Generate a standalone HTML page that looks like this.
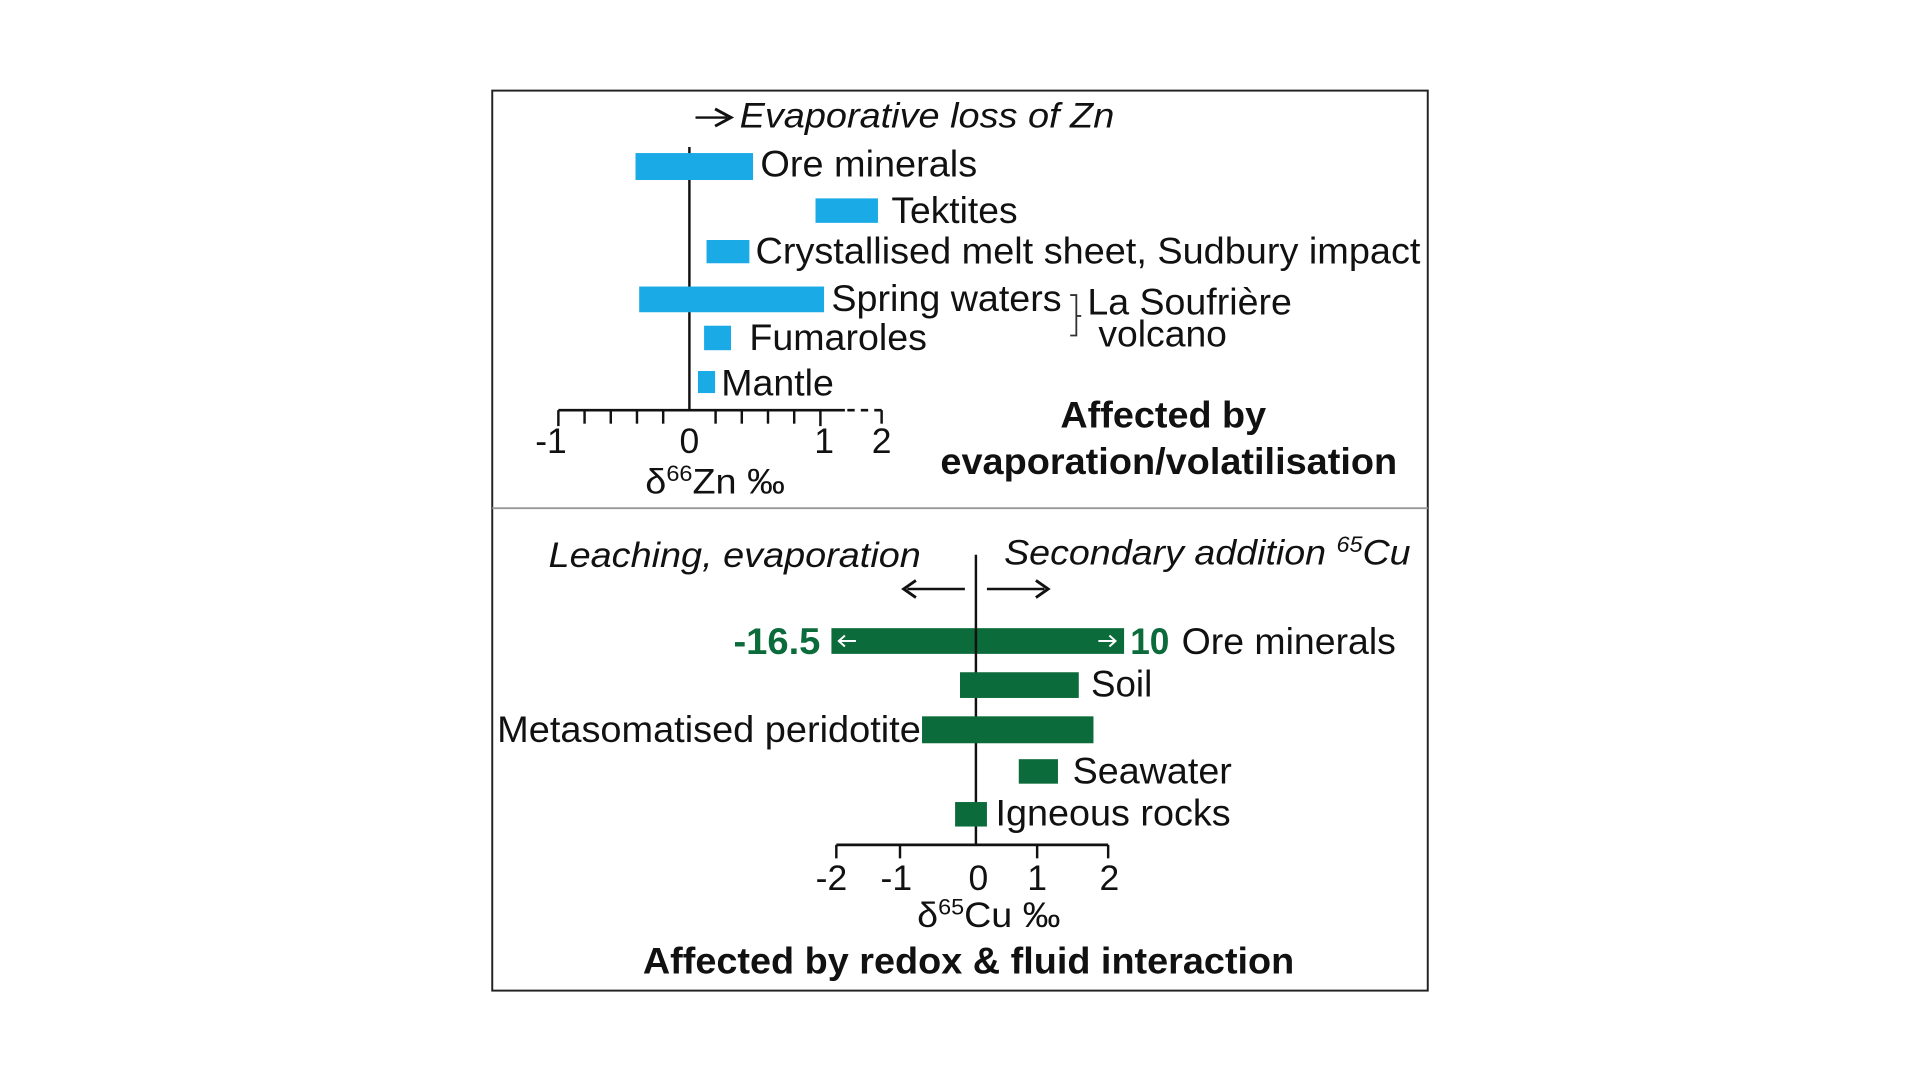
<!DOCTYPE html>
<html><head><meta charset="utf-8"><style>
html,body{margin:0;padding:0;background:#fff;}
svg{display:block;}
text{font-family:"Liberation Sans",Arial,sans-serif;fill:#111;}
</style></head><body>
<svg width="1920" height="1080" viewBox="0 0 1568 882" xmlns="http://www.w3.org/2000/svg">
<rect x="0" y="0" width="1568" height="882" fill="#fff"/>
<rect x="402" y="74" width="764" height="735" fill="none" stroke="#222" stroke-width="1.6"/>
<line x1="402" y1="415" x2="1166" y2="415" stroke="#999" stroke-width="1.5"/>

<!-- TOP PANEL -->
<line x1="568" y1="96" x2="594" y2="96" stroke="#111" stroke-width="2"/>
<path d="M584 89 L597 96 L584 103" fill="none" stroke="#111" stroke-width="2.4"/>
<text x="604" y="104" font-size="29" font-style="italic" textLength="306" lengthAdjust="spacingAndGlyphs">Evaporative loss of Zn</text>

<line x1="563" y1="120" x2="563" y2="336" stroke="#111" stroke-width="2"/>
<g fill="#1AABE6">
<rect x="519" y="125" width="96" height="22"/>
<rect x="666" y="162" width="51" height="20"/>
<rect x="577" y="196" width="35" height="19"/>
<rect x="522" y="234" width="151" height="21"/>
<rect x="575" y="266" width="22" height="20"/>
<rect x="570" y="303" width="14" height="18"/>
</g>
<g font-size="30" lengthAdjust="spacingAndGlyphs">
<text x="621" y="144" textLength="177" lengthAdjust="spacingAndGlyphs">Ore minerals</text>
<text x="728" y="182" textLength="103" lengthAdjust="spacingAndGlyphs">Tektites</text>
<text x="617" y="215" textLength="543" lengthAdjust="spacingAndGlyphs">Crystallised melt sheet, Sudbury impact</text>
<text x="679" y="254" textLength="188" lengthAdjust="spacingAndGlyphs">Spring waters</text>
<text x="612" y="286" textLength="145" lengthAdjust="spacingAndGlyphs">Fumaroles</text>
<text x="589" y="323" textLength="92" lengthAdjust="spacingAndGlyphs">Mantle</text>
<text x="888" y="257" textLength="167" lengthAdjust="spacingAndGlyphs">La Soufrière</text>
<text x="897" y="283" textLength="105" lengthAdjust="spacingAndGlyphs">volcano</text>
</g>
<path d="M874 241 L879 241 L879 274 L874 274 M879 258 L883 258" fill="none" stroke="#333" stroke-width="1.5"/>

<!-- top axis -->
<line x1="456" y1="335" x2="690" y2="335" stroke="#111" stroke-width="2.2"/>
<line x1="692" y1="335" x2="720" y2="335" stroke="#111" stroke-width="2.2" stroke-dasharray="6,5"/>
<g stroke="#111" stroke-width="2">
<line x1="456" y1="335" x2="456" y2="348"/>
<line x1="477.4" y1="335" x2="477.4" y2="346"/>
<line x1="498.8" y1="335" x2="498.8" y2="346"/>
<line x1="520.2" y1="335" x2="520.2" y2="346"/>
<line x1="541.6" y1="335" x2="541.6" y2="346"/>
<line x1="584.4" y1="335" x2="584.4" y2="346"/>
<line x1="605.8" y1="335" x2="605.8" y2="346"/>
<line x1="627.2" y1="335" x2="627.2" y2="346"/>
<line x1="648.6" y1="335" x2="648.6" y2="346"/>
<line x1="670" y1="335" x2="670" y2="348"/>
<line x1="720" y1="335" x2="720" y2="346"/>
</g>
<g font-size="29" text-anchor="middle">
<text x="450" y="370">-1</text>
<text x="563" y="370">0</text>
<text x="673" y="370">1</text>
<text x="720" y="370">2</text>
</g>
<text x="527" y="403" font-size="29" textLength="114" lengthAdjust="spacingAndGlyphs">δ<tspan font-size="18" dy="-10">66</tspan><tspan dy="10">Zn ‰</tspan></text>
<g font-size="30" font-weight="bold">
<text x="866" y="349" textLength="168" lengthAdjust="spacingAndGlyphs">Affected by</text>
<text x="768" y="387" textLength="373" lengthAdjust="spacingAndGlyphs">evaporation/volatilisation</text>
</g>

<!-- BOTTOM PANEL -->
<text x="448" y="463" font-size="29" font-style="italic" textLength="304" lengthAdjust="spacingAndGlyphs">Leaching, evaporation</text>
<text x="820" y="461" font-size="29" font-style="italic" textLength="332" lengthAdjust="spacingAndGlyphs">Secondary addition <tspan font-size="18" dy="-10">65</tspan><tspan dy="10">Cu</tspan></text>
<line x1="797" y1="453" x2="797" y2="690" stroke="#111" stroke-width="2"/>
<line x1="741" y1="481" x2="788" y2="481" stroke="#111" stroke-width="2"/>
<path d="M748 474 L738 481 L748 488" fill="none" stroke="#111" stroke-width="2.4"/>
<line x1="806" y1="481" x2="853" y2="481" stroke="#111" stroke-width="2"/>
<path d="M846 474 L856 481 L846 488" fill="none" stroke="#111" stroke-width="2.4"/>

<g fill="#0B6B3A">
<rect x="679" y="513" width="239" height="21"/>
<rect x="784" y="549" width="97" height="21"/>
<rect x="753" y="585" width="140" height="22"/>
<rect x="832" y="620" width="32" height="20"/>
<rect x="780" y="655" width="26" height="20"/>
</g>
<line x1="797" y1="513" x2="797" y2="534" stroke="#111" stroke-width="2"/>
<g stroke="#fff" stroke-width="1.6" fill="none">
<line x1="685" y1="523.5" x2="699" y2="523.5"/><path d="M690 519 L685 523.5 L690 528"/>
<line x1="897" y1="523.5" x2="911" y2="523.5"/><path d="M906 519 L911 523.5 L906 528"/>
</g>
<text x="599" y="534" font-size="30" font-weight="bold" style="fill:#0B6B3A" textLength="71" lengthAdjust="spacingAndGlyphs">-16.5</text>
<text x="923" y="534" font-size="30" font-weight="bold" style="fill:#0B6B3A" textLength="32" lengthAdjust="spacingAndGlyphs">10</text>
<g font-size="30">
<text x="965" y="534" textLength="175" lengthAdjust="spacingAndGlyphs">Ore minerals</text>
<text x="891" y="569" textLength="50" lengthAdjust="spacingAndGlyphs">Soil</text>
<text x="406" y="606" textLength="346" lengthAdjust="spacingAndGlyphs">Metasomatised peridotite</text>
<text x="876" y="640" textLength="130" lengthAdjust="spacingAndGlyphs">Seawater</text>
<text x="813" y="674" textLength="192" lengthAdjust="spacingAndGlyphs">Igneous rocks</text>
</g>

<line x1="683" y1="690" x2="905" y2="690" stroke="#111" stroke-width="2.2"/>
<g stroke="#111" stroke-width="2">
<line x1="683" y1="690" x2="683" y2="701"/>
<line x1="735" y1="690" x2="735" y2="701"/>
<line x1="847" y1="690" x2="847" y2="701"/>
<line x1="905" y1="690" x2="905" y2="701"/>
</g>
<g font-size="29" text-anchor="middle">
<text x="679" y="727">-2</text>
<text x="732" y="727">-1</text>
<text x="799" y="727">0</text>
<text x="847" y="727">1</text>
<text x="906" y="727">2</text>
</g>
<text x="749" y="757" font-size="29" textLength="117" lengthAdjust="spacingAndGlyphs">δ<tspan font-size="18" dy="-10">65</tspan><tspan dy="10">Cu ‰</tspan></text>
<text x="525" y="795" font-size="30" font-weight="bold" textLength="532" lengthAdjust="spacingAndGlyphs">Affected by redox &amp; fluid interaction</text>
</svg>
</body></html>
